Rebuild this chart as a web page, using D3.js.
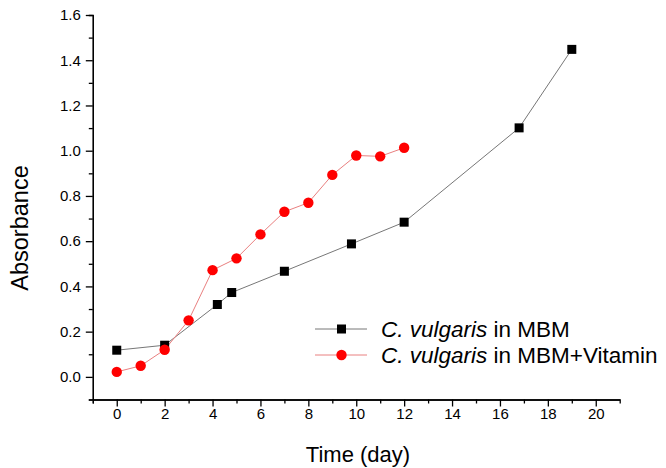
<!DOCTYPE html>
<html>
<head>
<meta charset="utf-8">
<script src="https://cdn.jsdelivr.net/npm/d3@7"></script>
<style>
  body { margin: 0; background: #fff; }
  text { font-family: "Liberation Sans", Arial, sans-serif; }
</style>
</head>
<body>
<script>
// growth curves
let mbmDays = [0, 2, 4.2, 4.8, 7, 9.8, 12, 16.8, 19]
let mbmAbs  = [0.118, 0.14, 0.32, 0.373, 0.467, 0.588, 0.684, 1.101, 1.448]

let vitDays = [0, 1, 2, 3, 4, 5, 6, 7, 8, 9, 10, 11, 12]
let vitAbs  = [0.022, 0.049, 0.12, 0.25, 0.472, 0.524, 0.63, 0.73, 0.77, 0.893, 0.979, 0.975, 1.013]

let xTicks = [0, 2, 4, 6, 8, 10, 12, 14, 16, 18, 20]
let yTicks = [0.0, 0.2, 0.4, 0.6, 0.8, 1.0, 1.2, 1.4, 1.6]

let w = 666
let h = 468

let svg = d3.select("body").append("svg")
    .attr("width", w)
    .attr("height", h)

let x = d3.scaleLinear().domain([-1, 21]).range([92.8, 619.7])
let y = d3.scaleLinear().domain([-0.1, 1.6]).range([399.5, 15])

// axes: major ticks labelled, minor ticks between
let xAxis = svg.append("g").attr("transform", "translate(0,399.5)")
xAxis.call(d3.axisBottom(x).tickValues(xTicks).tickSize(7).tickSizeOuter(0).tickFormat(d3.format("d")))
xAxis.append("g").call(d3.axisBottom(x).tickValues(d3.range(-1, 21, 2)).tickSize(4).tickFormat(""))

let yAxis = svg.append("g").attr("transform", "translate(92.8,0)")
yAxis.call(d3.axisLeft(y).tickValues(yTicks).tickSize(7).tickSizeOuter(0).tickFormat(d3.format(".1f")))
yAxis.append("g").call(d3.axisLeft(y).tickValues([-0.1, 0.1, 0.3, 0.5, 0.7, 0.9, 1.1, 1.3, 1.5]).tickSize(4).tickFormat(""))

svg.selectAll(".domain").attr("stroke", "#000").attr("stroke-width", 1.3)
svg.selectAll(".tick line").attr("stroke", "#000").attr("stroke-width", 1.3)
svg.selectAll(".tick text")
    .attr("font-family", "Liberation Sans, Arial, sans-serif")
    .attr("font-size", "15px")
    .attr("fill", "#000")
xAxis.selectAll(".tick text").attr("y", 19).attr("dy", 0)
yAxis.selectAll(".tick text").attr("x", -12)

svg.append("text")
    .attr("x", 358).attr("y", 462)
    .attr("text-anchor", "middle")
    .attr("font-size", "22px")
    .text("Time (day)")

svg.append("text")
    .attr("transform", "translate(28,228) rotate(-90)")
    .attr("text-anchor", "middle")
    .attr("font-size", "23.5px")
    .text("Absorbance")

let mbm = mbmDays.map((d, i) => [d, mbmAbs[i]])
let vit = vitDays.map((d, i) => [d, vitAbs[i]])

let line = d3.line().x(d => x(d[0])).y(d => y(d[1]))

svg.append("path")
    .datum(mbm)
    .attr("d", line)
    .attr("fill", "none")
    .attr("stroke", "#777")
    .attr("stroke-width", 1)

svg.append("path")
    .datum(vit)
    .attr("d", line)
    .attr("fill", "none")
    .attr("stroke", "#e98080")
    .attr("stroke-width", 1)

svg.selectAll("rect.mbm")
    .data(mbm)
    .enter()
    .append("rect")
        .attr("class", "mbm")
        .attr("x", d => x(d[0]) - 4.5)
        .attr("y", d => y(d[1]) - 4.5)
        .attr("width", 9)
        .attr("height", 9)
        .attr("fill", "#000")

svg.selectAll("circle.vit")
    .data(vit)
    .enter()
    .append("circle")
        .attr("class", "vit")
        .attr("cx", d => x(d[0]))
        .attr("cy", d => y(d[1]))
        .attr("r", 5.2)
        .attr("fill", "#ff0000")

// legend
let lg = svg.append("g")
let rows = [
    {y: 329, stroke: "#777", label: "in MBM", mark: "rect"},
    {y: 355, stroke: "#e98080", label: "in MBM+Vitamin", mark: "circle"}
]
rows.forEach(r => {
    lg.append("line").attr("x1", 315).attr("x2", 367).attr("y1", r.y).attr("y2", r.y)
        .attr("stroke", r.stroke).attr("stroke-width", 1)
    if (r.mark == "rect") {
        lg.append("rect").attr("x", 337).attr("y", r.y - 4.5).attr("width", 9).attr("height", 9).attr("fill", "#000")
    } else {
        lg.append("circle").attr("cx", 341.5).attr("cy", r.y).attr("r", 5.2).attr("fill", "#ff0000")
    }
    let t = lg.append("text").attr("x", 381).attr("y", r.y + 8).attr("font-size", "22.5px").attr("fill", "#000")
    t.append("tspan").attr("font-style", "italic").text("C. vulgaris")
    t.append("tspan").text(" " + r.label)
})
</script>
</body>
</html>
